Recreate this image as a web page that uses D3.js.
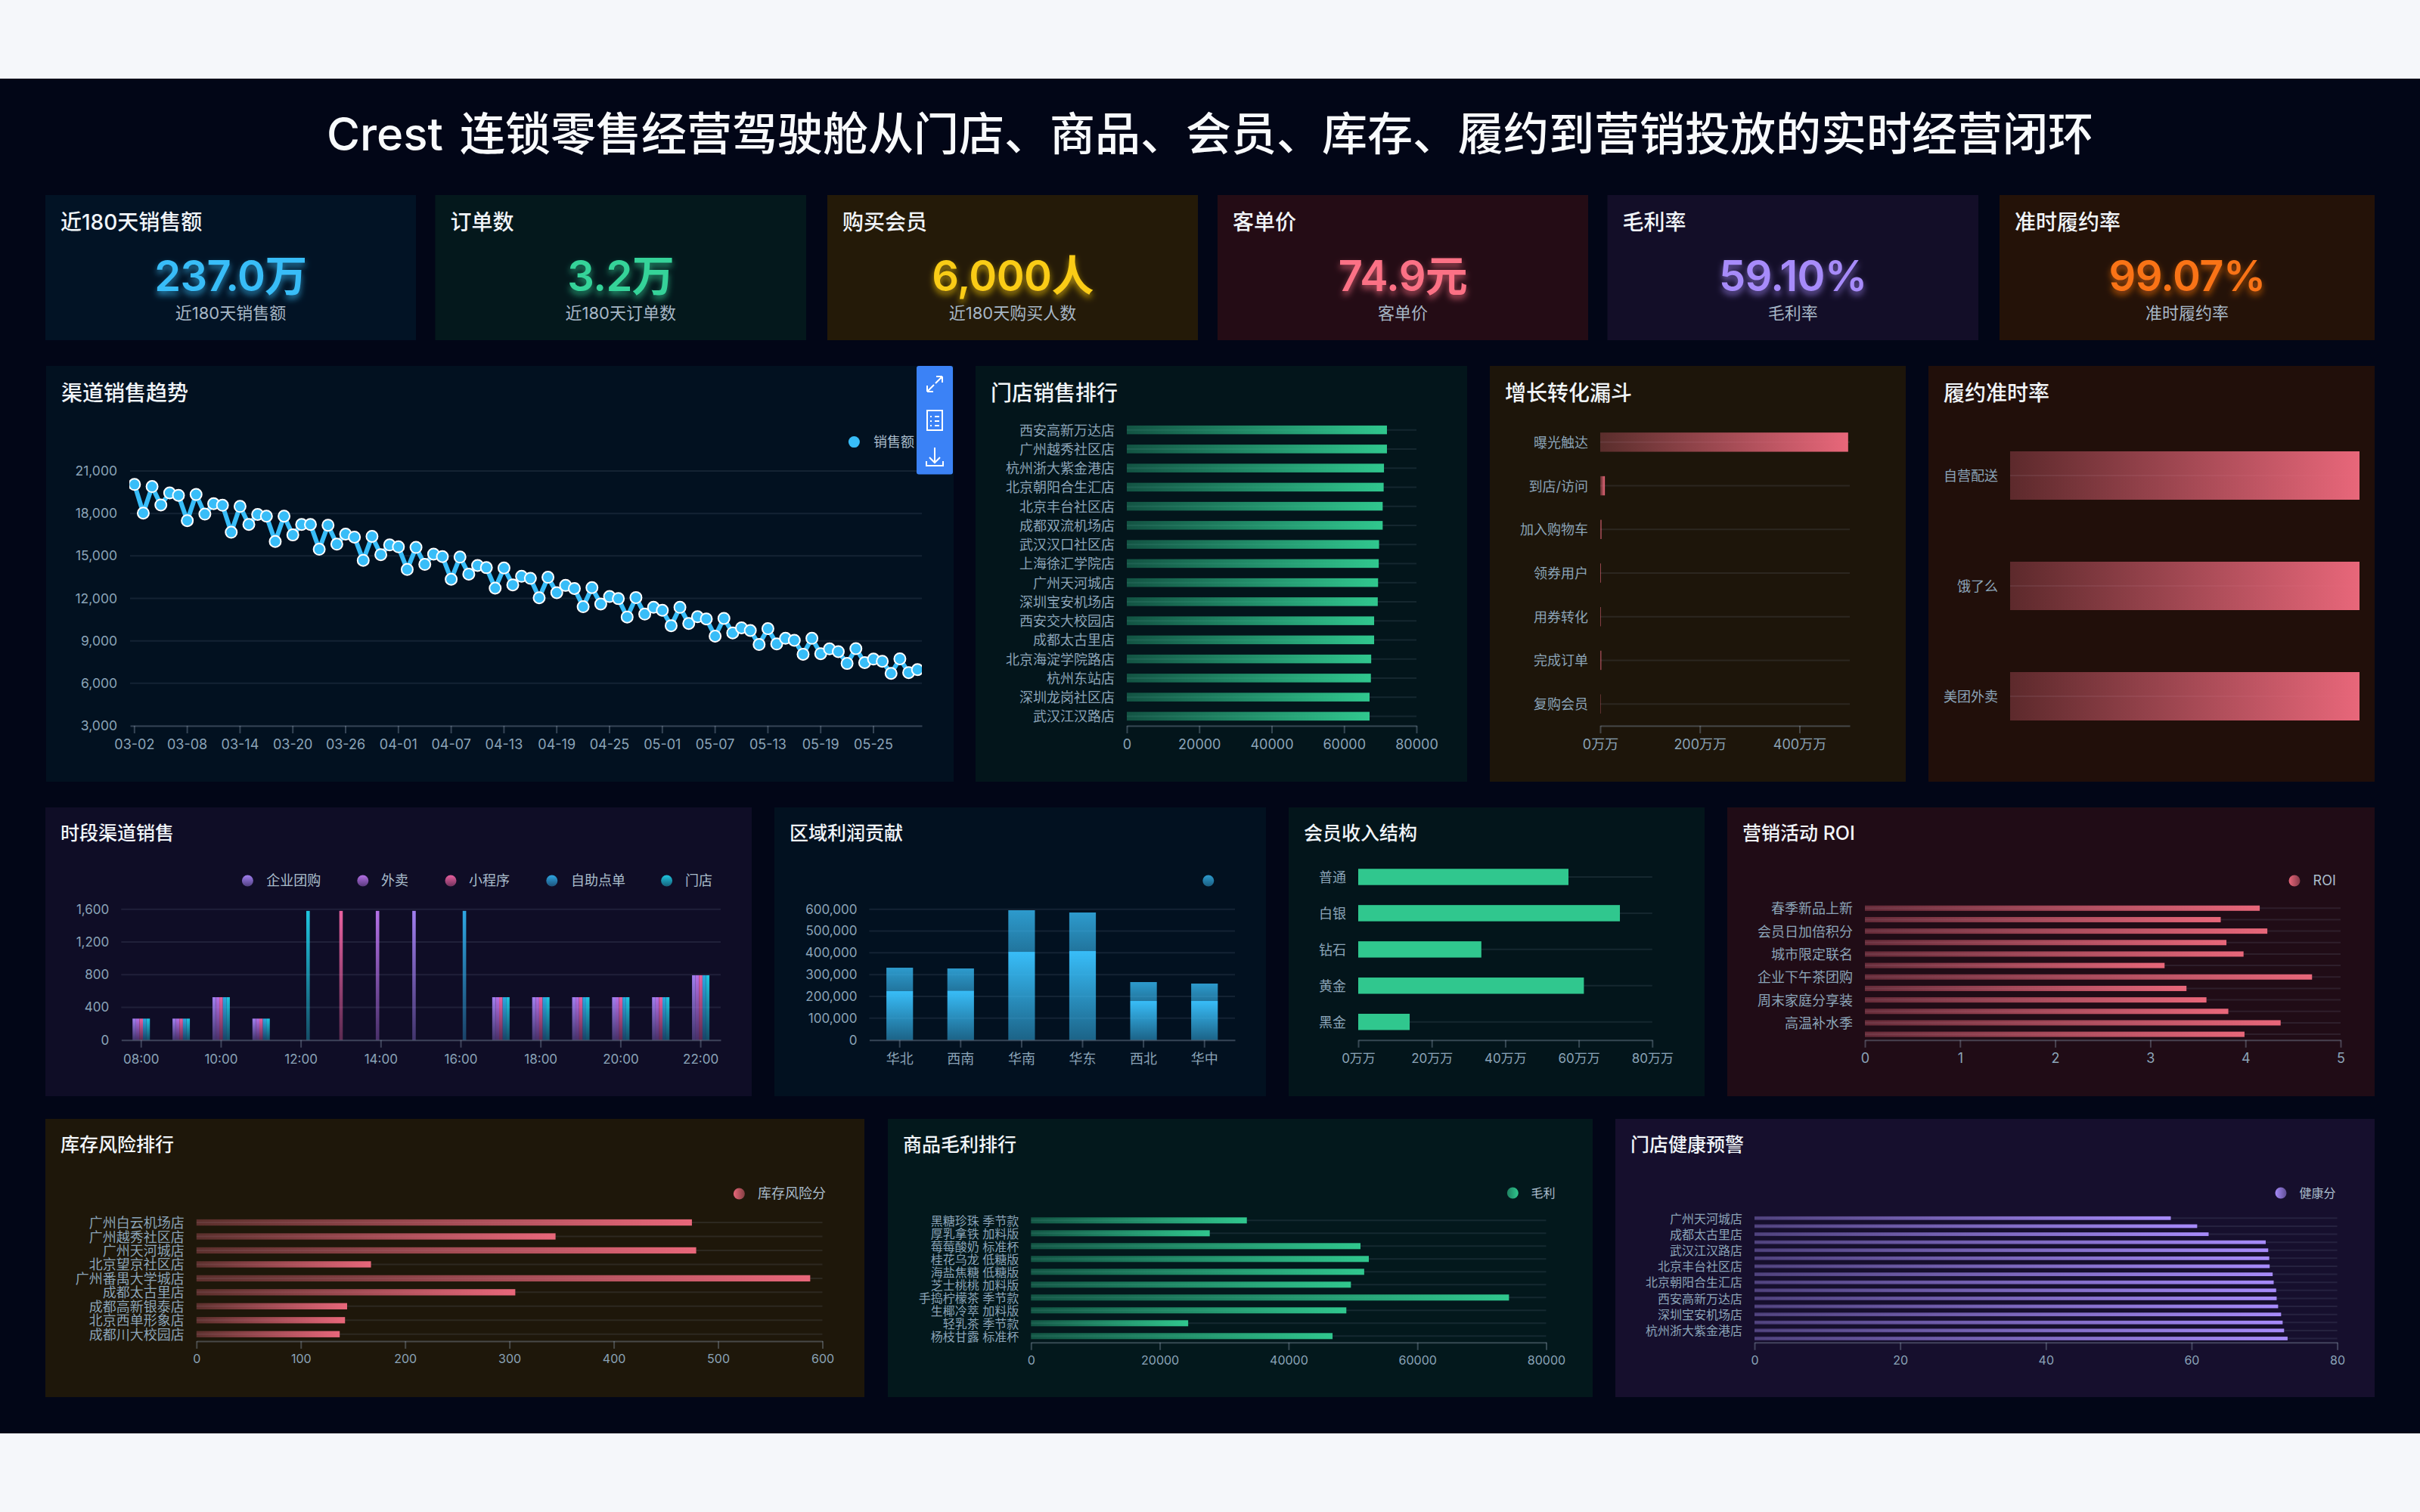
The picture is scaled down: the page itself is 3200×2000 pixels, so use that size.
<!DOCTYPE html>
<html><head><meta charset="utf-8">
<script src="https://cdnjs.cloudflare.com/ajax/libs/d3/7.8.5/d3.min.js"></script>
<style>
html,body{margin:0;padding:0;background:#f5f7fa;width:3200px;height:2000px;overflow:hidden}
svg{display:block}
text{font-family:Inter,"Noto Sans CJK SC",sans-serif}
</style></head><body><div id="c"></div>
<script>
// ---------- data ----------
const mainTitle = "Crest 连锁零售经营驾驶舱从门店、商品、会员、库存、履约到营销投放的实时经营闭环";
const kpiTitles = ["近180天销售额","订单数","购买会员","客单价","毛利率","准时履约率"];
const kpiValues = ["237.0万","3.2万","6,000人","74.9元","59.10%","99.07%"];
const kpiSubs = ["近180天销售额","近180天订单数","近180天购买人数","客单价","毛利率","准时履约率"];
const trendDates = ["03-02","03-03","03-04","03-05","03-06","03-07","03-08","03-09","03-10","03-11","03-12","03-13","03-14","03-15","03-16","03-17","03-18","03-19","03-20","03-21","03-22","03-23","03-24","03-25","03-26","03-27","03-28","03-29","03-30","03-31","04-01","04-02","04-03","04-04","04-05","04-06","04-07","04-08","04-09","04-10","04-11","04-12","04-13","04-14","04-15","04-16","04-17","04-18","04-19","04-20","04-21","04-22","04-23","04-24","04-25","04-26","04-27","04-28","04-29","04-30","05-01","05-02","05-03","05-04","05-05","05-06","05-07","05-08","05-09","05-10","05-11","05-12","05-13","05-14","05-15","05-16","05-17","05-18","05-19","05-20","05-21","05-22","05-23","05-24","05-25","05-26","05-27","05-28","05-29","05-30"];
const trendTicks = ["03-02","03-08","03-14","03-20","03-26","04-01","04-07","04-13","04-19","04-25","05-01","05-07","05-13","05-19","05-25"];
const trendSales = [20050,18025,19900,18600,19450,19280,17490,19340,17950,18690,18580,16670,18500,17220,17930,17810,16020,17810,16480,17220,17220,15470,17170,15830,16540,16330,14690,16385,15090,15775,15640,14040,15600,14400,15130,14950,13350,14920,13715,14325,14170,12720,14150,12950,13560,13410,12040,13490,12400,12915,12700,11410,12760,11600,12130,11980,10680,12060,10890,11370,11160,10070,11370,10225,10700,10550,9330,10590,9560,9920,9730,8740,9860,8780,9180,9040,8050,9180,8090,8430,8240,7400,8450,7460,7710,7555,6700,7730,6755,6965];
const storeNames = ["西安高新万达店","广州越秀社区店","杭州浙大紫金港店","北京朝阳合生汇店","北京丰台社区店","成都双流机场店","武汉汉口社区店","上海徐汇学院店","广州天河城店","深圳宝安机场店","西安交大校园店","成都太古里店","北京海淀学院路店","杭州东站店","深圳龙岗社区店","武汉江汉路店"];
const storeSales = [71850,71850,71030,70940,70670,70670,69670,69580,69400,69310,68310,68310,67500,67410,67050,67050];
const funnelSteps = ["曝光触达","到店/访问","加入购物车","领券用户","用券转化","完成订单","复购会员"];
const funnelValues = [497.7,9.3,2.3,1.2,0.8,2,0.5];
const deliveryNames = ["自营配送","饿了么","美团外卖"];
const deliveryRates = [99.07,99.07,99.07];
const hours = ["08:00","09:00","10:00","11:00","12:00","13:00","14:00","15:00","16:00","17:00","18:00","19:00","20:00","21:00","22:00"];
const hourTicks = ["08:00","10:00","12:00","14:00","16:00","18:00","20:00","22:00"];
const channelNames = ["企业团购","外卖","小程序","自助点单","门店"];
const salesGroup =    [262,262,524,262,0,0,0,1580,0,524,524,524,524,524,792];
const salesDelivery = [262,262,524,262,0,0,1580,0,0,524,524,524,524,524,792];
const salesMini =     [262,262,524,262,0,1580,0,0,0,524,524,524,524,524,792];
const salesKiosk =    [262,262,524,262,0,0,0,0,1580,524,524,524,524,524,792];
const salesStore =    [262,262,524,262,1580,0,0,0,0,524,524,524,524,524,792];
const regions = ["华北","西南","华南","华东","西北","华中"];
const regionLower = [224300,226600,404600,408100,179200,179200];
const regionUpper = [107500,101700,190800,176900,86700,79800];
const memberTiers = ["普通","白银","钻石","黄金","黑金"];
const memberRevenue = [57.2,71.2,33.5,61.4,14];
const roiNames = ["春季新品上新","","会员日加倍积分","","城市限定联名","","企业下午茶团购","","周末家庭分享装","","高温补水季",""];
const roiValues = [4.15,3.74,4.23,3.80,3.98,3.15,4.70,3.38,3.59,3.82,4.37,3.99];
const riskStores = ["广州白云机场店","广州越秀社区店","广州天河城店","北京望京社区店","广州番禺大学城店","成都太古里店","成都高新银泰店","北京西单形象店","成都川大校园店"];
const riskScores = [474.9,344.2,479,167.3,588.3,305.6,144.4,142.4,137.3];
const productNames = ["黑糖珍珠 季节款","厚乳拿铁 加料版","莓莓酸奶 标准杯","桂花乌龙 低糖版","海盐焦糖 低糖版","芝士桃桃 加料版","手捣柠檬茶 季节款","生椰冷萃 加料版","轻乳茶 季节款","杨枝甘露 标准杯"];
const productMargin = [33520,27760,51170,52460,51740,49680,74230,48970,24410,46830];
const healthStores = ["广州天河城店","","成都太古里店","","武汉江汉路店","","北京丰台社区店","","北京朝阳合生汇店","","西安高新万达店","","深圳宝安机场店","","杭州浙大紫金港店",""];
const healthScores = [57.15,60.77,62.34,70.18,70.52,70.66,70.72,71.13,71.27,71.61,71.68,71.88,72.29,72.5,72.7,73.18];

// ---------- styles ----------
const C = {blue:"#38bdf8",green:"#30c78e",yellow:"#facc15",rose:"#e8677a",purple:"#a78bfa",orange:"#f97316"};
const kpiColors = ["#38bdf8","#34d399","#facc15","#fb7185","#a78bfa","#f97316"];
const channelColors = ["#a17ff0","#b470e6","#e8609f","#2ea6e2","#1fc6e0"];
const tickColor="#8ba4b8", legendColor="#aabdcc", axisColor="rgba(148,163,184,.36)", gridColor="rgba(148,163,184,.13)";

const svg = d3.select("#c").append("svg").attr("width",3200).attr("height",2000);
const defs = svg.append("defs");
let gid=0;
function grad(color,a0,a1,horizontal){
  const id="g"+(gid++);
  const g=defs.append("linearGradient").attr("id",id).attr("x1",0).attr("y1",0).attr("x2",horizontal?1:0).attr("y2",horizontal?0:1);
  g.append("stop").attr("offset",0).attr("stop-color",color).attr("stop-opacity",a0);
  g.append("stop").attr("offset",1).attr("stop-color",color).attr("stop-opacity",a1);
  return `url(#${id})`;
}
function panel(x0,x1,y0,y1,fill,title,size){
  svg.append("rect").attr("x",x0).attr("y",y0).attr("width",x1-x0).attr("height",y1-y0).attr("fill",fill);
  if(title) svg.append("text").attr("x",x0+20).attr("y",y0+(size==28?36:33.5)).attr("dy",".36em").attr("fill","#f1f5f9")
    .attr("font-size",size).attr("font-weight",500).text(title);
}
function legend(items){
  items.forEach(it=>{
    svg.append("circle").attr("cx",it.cx).attr("cy",it.cy).attr("r",7.5).attr("fill",it.fill);
    if(it.label) svg.append("text").attr("x",it.tx).attr("y",it.cy).attr("dy",".35em").attr("font-size",it.size||18).attr("fill",legendColor).text(it.label);
  });
}
function styleAxis(g,size){
  g.selectAll("text").attr("fill",tickColor).attr("font-size",size).attr("font-family",'Inter,"Noto Sans CJK SC",sans-serif');
  g.selectAll(".domain").attr("stroke",axisColor).attr("stroke-width",2);
  g.selectAll(".tick line").attr("stroke",axisColor).attr("stroke-width",2);
}
function hbar(o){
  const y=d3.scaleBand().domain(d3.range(o.names.length)).range([o.top,o.bottom]);
  const x=d3.scaleLinear().domain(o.domain).range([o.x0,o.x1]);
  const fill=o.fill||grad(o.color,o.a0,1,true);
  const g=svg.append("g");
  g.selectAll("line.grid").data(o.names).join("line").attr("class","grid")
    .attr("x1",o.x0).attr("x2",o.x1).attr("y1",(d,i)=>y(i)+y.bandwidth()/2).attr("y2",(d,i)=>y(i)+y.bandwidth()/2)
    .attr("stroke",gridColor).attr("stroke-width",2);
  g.selectAll("rect").data(o.values).join("rect")
    .attr("x",o.x0).attr("width",d=>x(d)-o.x0)
    .attr("y",(d,i)=>y(i)+y.bandwidth()/2-o.h/2).attr("height",o.h).attr("fill",fill);
  const left=svg.append("g").attr("transform",`translate(${o.x0},0)`)
    .call(d3.axisLeft(y).tickSize(0).tickPadding(o.pad||16).tickFormat(i=>o.names[i]));
  left.select(".domain").remove();
  styleAxis(left,o.labelSize||18);
  left.selectAll("text").attr("dy",".39em");
  if(o.ticks){
    const ax=svg.append("g").attr("transform",`translate(0,${o.bottom})`)
      .call(d3.axisBottom(x).tickValues(o.ticks).tickSize(10).tickSizeOuter(0).tickPadding(8).tickFormat(o.fmt||(d=>d)));
    styleAxis(ax,o.tickSize||17);
  }
}

// page
svg.append("rect").attr("x",0).attr("y",104).attr("width",3200).attr("height",1792).attr("fill","#020617");
svg.append("text").attr("x",1600).attr("y",177.5).attr("dy",".36em").attr("text-anchor","middle").attr("fill","#f8fafc")
  .attr("font-size",60).attr("font-weight",500).attr("word-spacing",6).text(mainTitle);

// KPI
const kpiX=[[60,550],[575.5,1066],[1094,1584],[1610,2100],[2125.5,2616],[2644,3140]];
const kpiBg=["rgb(2,19,37)","rgb(4,24,28)","rgb(36,26,8)","rgb(36,12,21)","rgb(19,14,40)","rgb(36,18,8)"];
kpiTitles.forEach((t,i)=>{
  const [a,b]=kpiX[i];
  svg.append("rect").attr("x",a).attr("y",258).attr("width",b-a).attr("height",192).attr("fill",kpiBg[i]);
  svg.append("text").attr("x",a+20).attr("y",294).attr("dy",".36em").attr("font-size",28).attr("font-weight",500).attr("fill","#f1f5f9").text(t);
  const f=defs.append("filter").attr("id","kg"+i).attr("x","-20%").attr("y","-30%").attr("width","140%").attr("height","170%");
  f.append("feDropShadow").attr("dx",0).attr("dy",5).attr("stdDeviation",4).attr("flood-color",kpiColors[i]).attr("flood-opacity",.65);
  svg.append("text").attr("x",(a+b)/2).attr("y",365).attr("dy",".36em").attr("text-anchor","middle").attr("font-size",56).attr("font-weight",600).attr("letter-spacing",-0.6)
    .attr("fill",kpiColors[i]).attr("filter",`url(#kg${i})`).text(kpiValues[i]);
  svg.append("text").attr("x",(a+b)/2).attr("y",414).attr("dy",".36em").attr("text-anchor","middle").attr("font-size",22).attr("fill","#a7b7c6").text(kpiSubs[i]);
});

// row 2 - trend
panel(61,1261,484,1034,"rgb(2,17,32)","渠道销售趋势",28);
{
  const x=d3.scaleBand().domain(trendDates).range([172,1219]);
  const y=d3.scaleLinear().domain([3000,21000]).range([960,623]);
  const yt=d3.range(3000,21001,3000);
  svg.append("g").selectAll("line").data(yt.slice(1)).join("line").attr("x1",172).attr("x2",1219)
    .attr("y1",d=>y(d)).attr("y2",d=>y(d)).attr("stroke",gridColor).attr("stroke-width",2);
  const ax=svg.append("g").attr("transform","translate(0,960)").call(d3.axisBottom(x).tickValues(trendTicks).tickSize(10).tickSizeOuter(0).tickPadding(8));
  styleAxis(ax,18);
  const ay=svg.append("g").attr("transform","translate(172,0)").call(d3.axisLeft(y).tickValues(yt).tickSize(0).tickPadding(17).tickFormat(d3.format(",")));
  ay.select(".domain").remove(); styleAxis(ay,17.5);
  defs.append("clipPath").attr("id","tc").append("rect").attr("x",171).attr("y",600).attr("width",1048).attr("height",360);
  const pg=svg.append("g").attr("clip-path","url(#tc)");
  const cx=(d,i)=>x(trendDates[i])+x.bandwidth()/2;
  pg.append("path").attr("d",d3.line().x(cx).y(d=>y(d))(trendSales)).attr("fill","none").attr("stroke",C.blue).attr("stroke-width",6).attr("stroke-linejoin","round");
  pg.selectAll("circle").data(trendSales).join("circle").attr("cx",cx).attr("cy",d=>y(d)).attr("r",7.5).attr("fill",C.blue).attr("stroke","#fff").attr("stroke-width",2);
  legend([{cx:1129.4,cy:584.6,fill:C.blue,tx:1155,label:"销售额"}]);
}
// row 2 - others
panel(1290,1940,484,1034,"rgb(3,21,27)","门店销售排行",28);
hbar({names:storeNames,values:storeSales,top:556,bottom:960,x0:1490,x1:1873,domain:[0,80000],h:11.5,color:C.green,a0:.35,ticks:[0,20000,40000,60000,80000],tickSize:18});
panel(1970,2520,484,1034,"rgb(29,21,10)","增长转化漏斗",28);
hbar({names:funnelSteps,values:funnelValues,top:556,bottom:960,x0:2116,x1:2446,domain:[0,501],h:25.4,color:C.rose,a0:.3,ticks:[0,200,400],fmt:d=>d+"万万",tickSize:18});
panel(2550,3140,484,1034,"rgb(33,15,10)","履约准时率",28);
hbar({names:deliveryNames,values:deliveryRates,top:556,bottom:994,x0:2658,x1:3120,domain:[0,99.07],h:64,color:C.rose,a0:.3});

// row 3 - hour channel
panel(60,994,1068,1450,"rgb(15,13,38)","时段渠道销售",25);
{
  const x=d3.scaleBand().domain(hours).range([160.3,953]);
  const s=d3.scaleBand().domain(channelNames).range([-11.5,11.5]);
  const y=d3.scaleLinear().domain([0,1600]).range([1375.7,1202.7]);
  const yt=[0,400,800,1200,1600];
  svg.append("g").selectAll("line").data(yt.slice(1)).join("line").attr("x1",160.3).attr("x2",953).attr("y1",d=>y(d)).attr("y2",d=>y(d)).attr("stroke",gridColor).attr("stroke-width",2);
  [salesGroup,salesDelivery,salesMini,salesKiosk,salesStore].forEach((vals,k)=>{
    const fill=grad(channelColors[k],1,.35,false);
    svg.append("g").selectAll("rect").data(vals).join("rect")
      .attr("x",(d,i)=>x(hours[i])+x.bandwidth()/2+s(channelNames[k])).attr("width",s.bandwidth())
      .attr("y",d=>y(d)).attr("height",d=>y(0)-y(d)).attr("fill",fill);
  });
  const ax=svg.append("g").attr("transform","translate(0,1375.7)").call(d3.axisBottom(x).tickValues(hourTicks).tickSize(10).tickSizeOuter(0).tickPadding(9));
  styleAxis(ax,17);
  const ay=svg.append("g").attr("transform","translate(160.3,0)").call(d3.axisLeft(y).tickValues(yt).tickSize(0).tickPadding(16).tickFormat(d3.format(",")));
  ay.select(".domain").remove(); styleAxis(ay,17);
  const lx=[327.4,479.8,596,729.8,881.6], tx=[352.3,504,620,755,906];
  legend(channelNames.map((n,k)=>({cx:lx[k],cy:1165,fill:grad(channelColors[k],1,.45,false),tx:tx[k],label:n})));
}
// row 3 - region
panel(1024,1674,1068,1450,"rgb(2,17,32)","区域利润贡献",25);
{
  const x=d3.scaleBand().domain(regions).range([1149.4,1633]);
  const y=d3.scaleLinear().domain([0,600000]).range([1375.7,1202.7]);
  const yt=d3.range(0,600001,100000);
  svg.append("g").selectAll("line").data(yt.slice(1)).join("line").attr("x1",1149.4).attr("x2",1633).attr("y1",d=>y(d)).attr("y2",d=>y(d)).attr("stroke",gridColor).attr("stroke-width",2);
  const w=35.2, bx=(d,i)=>x(regions[i])+x.bandwidth()/2-w/2;
  const lowFill=grad(C.blue,1,.48,false), upFill=grad("#38bdf8",.8,.58,false);
  svg.append("g").selectAll("rect").data(regionLower).join("rect").attr("x",bx).attr("width",w).attr("y",d=>y(d)).attr("height",d=>y(0)-y(d)).attr("fill",lowFill);
  svg.append("g").selectAll("rect").data(regionUpper).join("rect").attr("x",bx).attr("width",w).attr("y",(d,i)=>y(d+regionLower[i])).attr("height",d=>y(0)-y(d)).attr("fill",upFill);
  const ax=svg.append("g").attr("transform","translate(0,1375.7)").call(d3.axisBottom(x).tickSize(10).tickSizeOuter(0).tickPadding(9));
  styleAxis(ax,18);
  const ay=svg.append("g").attr("transform","translate(1149.4,0)").call(d3.axisLeft(y).tickValues(yt).tickSize(0).tickPadding(16).tickFormat(d3.format(",")));
  ay.select(".domain").remove(); styleAxis(ay,17);
  legend([{cx:1597.8,cy:1165,fill:grad(C.blue,.8,.45,false)}]);
}
panel(1704,2254,1068,1450,"rgb(3,21,27)","会员收入结构",25);
hbar({names:memberTiers,values:memberRevenue,top:1136,bottom:1375.7,x0:1796,x1:2184.8,domain:[0,80],h:21.5,fill:C.green,ticks:[0,20,40,60,80],fmt:d=>d+"万万",tickSize:17});
panel(2284,3140,1068,1450,"rgb(32,12,22)","营销活动 ROI",25);
hbar({names:roiNames,values:roiValues,top:1193.7,bottom:1375.7,x0:2466,x1:3095,domain:[0,5],h:7,color:C.rose,a0:.35,ticks:[0,1,2,3,4,5],tickSize:18});
legend([{cx:3034,cy:1165,fill:grad(C.rose,1,.5,true),tx:3058.6,label:"ROI"}]);

// row 4
panel(60,1143,1480,1848,"rgb(30,23,10)","库存风险排行",25);
hbar({names:riskStores,values:riskScores,top:1607.8,bottom:1774,x0:259.8,x1:1087.5,domain:[0,600],h:8.3,color:C.rose,a0:.3,ticks:[0,100,200,300,400,500,600],tickSize:16});
legend([{cx:977.4,cy:1579,fill:grad(C.rose,1,.5,true),tx:1002,label:"库存风险分"}]);
panel(1174,2106,1480,1848,"rgb(3,24,28)","商品毛利排行",25);
hbar({names:productNames,values:productMargin,top:1605.8,bottom:1775.8,x0:1363.3,x1:2044.5,domain:[0,80000],h:8,color:C.green,a0:.35,labelSize:16,ticks:[0,20000,40000,60000,80000],tickSize:16});
legend([{cx:2000.3,cy:1578,fill:grad(C.green,.6,1,true),tx:2024.5,label:"毛利",size:16}]);
panel(2136,3140,1480,1848,"rgb(22,15,45)","门店健康预警",25);
hbar({names:healthStores,values:healthScores,top:1606,bottom:1775.8,x0:2320,x1:3090.6,domain:[0,80],h:4.8,color:C.purple,a0:.35,labelSize:16,ticks:[0,20,40,60,80],tickSize:16});
legend([{cx:3016,cy:1578,fill:grad(C.purple,1,.5,true),tx:3040.6,label:"健康分",size:16}]);

// toolbar
svg.append("rect").attr("x",1212).attr("y",484).attr("width",48).attr("height",143.5).attr("rx",3).attr("fill","#3b82f6");
const ic=svg.append("g").attr("fill","none").attr("stroke","#fff").attr("stroke-width",2);
ic.append("path").attr("d","M1226 518 L1235 509 M1226 518 V510 M1226 518 H1234 M1246 498 L1237 507 M1246 498 V506 M1246 498 H1238");
ic.append("path").attr("d","M1226 543 H1246 V569 H1226 Z M1236 551 H1242 M1236 557 H1242 M1236 563 H1242 M1230 551 h2 M1230 557 h2 M1230 563 h2");
ic.append("path").attr("d","M1236 592 V612 M1229 605 L1236 612 L1243 605 M1225 610 V616 H1247 V610");
</script></body></html>
